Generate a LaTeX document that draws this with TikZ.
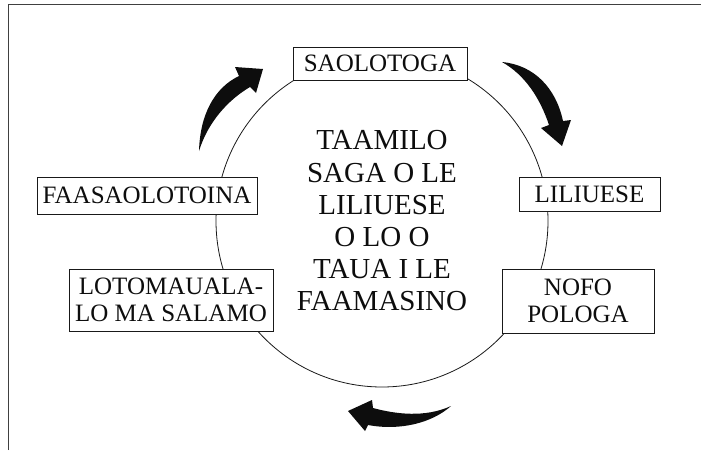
\documentclass[tikz,border=0pt]{standalone}
\usepackage{fontspec}
\setmainfont{Liberation Serif}
\begin{document}
\begin{tikzpicture}[x=1pt,y=-1pt,
  stagebox/.style={draw=black!90, line width=0.9pt, fill=white, inner sep=0pt, align=center,
    text=black!95, font=\fontsize{25}{27}\selectfont},
  ringnode/.style={circle, draw=black!90, line width=0.8pt, inner sep=0pt, minimum size=332pt,
    align=center, text=black!95, font=\fontsize{29}{32.2}\selectfont},
  bigarrow/.style={fill=black!95, draw=none}]
\useasboundingbox (0,0) rectangle (701,450);
% frame
\draw[line width=1.6pt, black!75] (8.5,450) -- (8.5,4.5) -- (701,4.5);
% central ring with title
\node[ringnode] (ring) at (382,221) {TAAMILO\\SAGA O LE\\LILIUESE\\O LO O\\TAUA I LE\\FAAMASINO};
% stages
\node[stagebox, minimum width=174pt, minimum height=33pt] (s1) at (380,63.5) {SAOLOTOGA};
\node[stagebox, minimum width=141pt, minimum height=34pt] (s2) at (589.5,194) {LILIUESE};
\node[stagebox, minimum width=152pt, minimum height=64pt] (s3) at (578,301) {NOFO\\POLOGA};
\node[stagebox, minimum width=204pt, minimum height=62pt] (s4) at (171,300) {LOTOMAUALA-\\LO MA SALAMO};
\node[stagebox, minimum width=220pt, minimum height=37pt] (s5) at (147,195.5) {FAASAOLOTOINA};
% curved arrows
\fill[bigarrow] (199,151) .. controls (200,115) and (214,88) .. (239,76)
  -- (235,67) -- (263,69) -- (256,93) -- (250,87)
  .. controls (228,100) and (208,122) .. (199,151) -- cycle;
\fill[bigarrow] (502,62) .. controls (534,65) and (556,88) .. (563,121)
  -- (571,120) -- (562,146) -- (541,128) -- (549,125)
  .. controls (540,98) and (525,75) .. (502,62) -- cycle;
\fill[bigarrow] (451,406) .. controls (425,418) and (395,414) .. (373,408)
  -- (372,400) -- (348,411) -- (365,431) -- (368,425)
  .. controls (400,431) and (432,423) .. (451,406) -- cycle;
\end{tikzpicture}
\end{document}
